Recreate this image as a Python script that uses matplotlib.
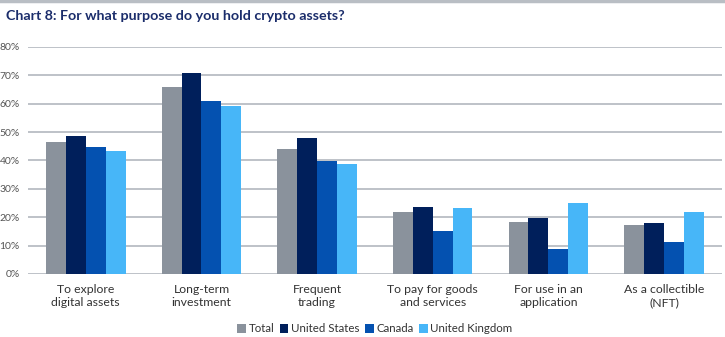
import matplotlib.pyplot as plt
import numpy as np
from matplotlib.lines import Line2D

plt.rcParams['font.family'] = ['Lato', 'DejaVu Sans']

categories = ["To explore\ndigital assets", "Long-term\ninvestment", "Frequent\ntrading",
              "To pay for goods\nand services", "For use in an\napplication", "As a collectible\n(NFT)"]
series_names = ["Total", "United States", "Canada", "United Kingdom"]
total = [46.5, 65.7, 43.9, 21.7, 18.4, 17.2]
united_states = [48.6, 70.9, 47.9, 23.7, 19.7, 18.0]
canada = [44.8, 60.9, 39.8, 15.2, 8.7, 11.2]
united_kingdom = [43.2, 59.3, 38.8, 23.3, 25.1, 21.7]
yticks = [0, 10, 20, 30, 40, 50, 60, 70, 80]

colors = ["#8a929c", "#001f5b", "#0451b0", "#47b6f8"]

fig = plt.figure(figsize=(7.25, 3.37), dpi=100)
ax = fig.add_axes([0.0386, 0.187, 0.957, 0.674])

x = np.arange(len(categories))
w = 0.172
for i, (vals, col, name) in enumerate(zip([total, united_states, canada, united_kingdom], colors, series_names)):
    ax.bar(x + (i - 1.5) * w, vals, width=w, color=col, label=name, zorder=3, linewidth=0)

ax.set_xlim(-0.5, len(categories) - 0.5)
ax.set_ylim(0, 80)
ax.set_yticks(yticks)
ax.set_yticklabels([f"{t}%" for t in yticks], fontsize=7.5, color="#555555")
ax.yaxis.grid(True, color="#b3b8bf", linewidth=1.2, zorder=0)
ax.tick_params(axis='y', length=0, pad=6)
ax.set_xticks(x)
ax.set_xticklabels(categories, fontsize=8.8, color="#333333", linespacing=1.3)
ax.tick_params(axis='x', length=0, pad=7)
for s in ax.spines.values():
    s.set_visible(False)

fig.text(0.008, 0.952, "Chart 8: For what purpose do you hold crypto assets?",
         fontsize=10.3, fontweight='bold', color="#1b2d6b", va='center', ha='left')
fig.add_artist(Line2D([0, 1], [0.997, 0.997], color="#b9bec4", linewidth=2.5, transform=fig.transFigure))

ax.legend(loc='center', bbox_to_anchor=(0.5, -0.242), ncol=4, frameon=False,
          fontsize=8.3, handlelength=0.75, handleheight=0.75, handletextpad=0.25,
          columnspacing=0.45, borderaxespad=0, labelcolor="#333333")

fig.savefig("out.png", dpi=100)
